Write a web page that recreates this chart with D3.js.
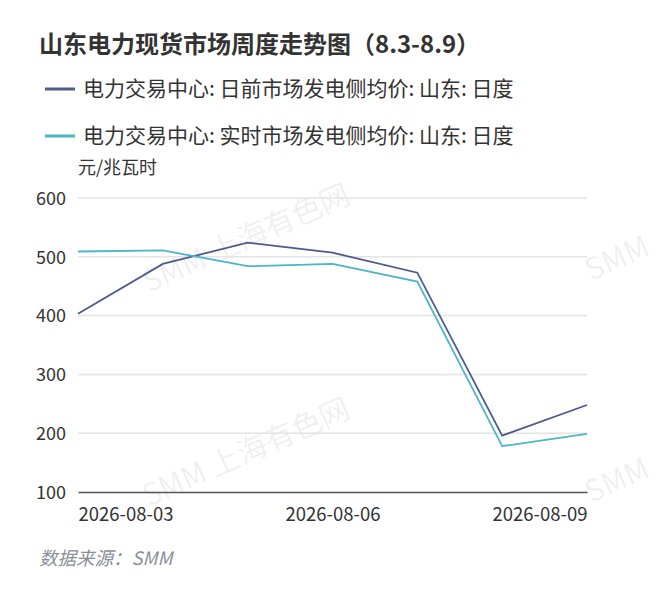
<!DOCTYPE html>
<html>
<head>
<meta charset="utf-8">
<script src="https://cdn.jsdelivr.net/npm/d3@7"></script>
<style>
  body { margin: 0; background: #fff; }
  text { font-family: "Noto Sans CJK SC", "Noto Sans", sans-serif; }
</style>
</head>
<body>
<div id="chart"></div>
<script>
const dates = ["2026-08-03", "2026-08-04", "2026-08-05", "2026-08-06", "2026-08-07", "2026-08-08", "2026-08-09"]
const dayAhead = [403, 488, 524, 507, 473, 196, 248]
const realTime = [509, 511, 484, 488, 458, 178, 199]
const yTicks = [100, 200, 300, 400, 500, 600]
const xLabels = ["2026-08-03", "2026-08-06", "2026-08-09"]

const seriesNames = [
    "电力交易中心: 日前市场发电侧均价: 山东: 日度",
    "电力交易中心: 实时市场发电侧均价: 山东: 日度"
]
const colors = ["#4e5a8e", "#4cb5c6"]

let width = 670
let height = 597

const margin = { top: 198, right: 83, bottom: 105, left: 78 }

let svg = d3.select("#chart")
    .append("svg")
        .attr("width", width)
        .attr("height", height)

// watermarks (the ones at the right edge only show "SMM")
const marks = [[246, 238, "SMM 上海有色网"], [246, 452, "SMM 上海有色网"], [617, 258, "SMM"], [617, 480, "SMM"]]
marks.forEach(m => {
    svg.append("text")
        .attr("transform", `translate(${m[0]}, ${m[1]}) rotate(-24)`)
        .attr("text-anchor", "middle")
        .attr("dy", "0.35em")
        .attr("font-size", "30px")
        .attr("fill", "#000")
        .attr("fill-opacity", 0.07)
        .text(m[2])
})

// title
svg.append("text")
    .attr("x", 39)
    .attr("y", 53)
    .attr("font-size", "24px")
    .attr("font-weight", "bold")
    .attr("fill", "#333")
    .text("山东电力现货市场周度走势图（8.3-8.9）")

// legend
seriesNames.forEach((name, i) => {
    let ly = 89 + i * 47
    svg.append("line")
        .attr("x1", 45).attr("x2", 75)
        .attr("y1", ly).attr("y2", ly)
        .attr("stroke", colors[i])
        .attr("stroke-width", 3)
    svg.append("text")
        .attr("x", 83)
        .attr("y", ly + 7)
        .attr("font-size", "21px")
        .attr("fill", "#333")
        .text(name)
})

svg.append("text")
    .attr("x", 78)
    .attr("y", 174)
    .attr("font-size", "18px")
    .attr("fill", "#333")
    .text("元/兆瓦时")

let x = d3.scalePoint()
    .domain(dates)
    .range([margin.left, width - margin.right])

let y = d3.scaleLinear()
    .domain([100, 600])
    .range([height - margin.bottom, margin.top])

// grid
svg.append("g")
    .selectAll("line")
    .data(yTicks.filter(d => d > 100))
    .enter()
    .append("line")
        .attr("x1", margin.left)
        .attr("x2", width - margin.right)
        .attr("y1", d => y(d))
        .attr("y2", d => y(d))
        .attr("stroke", "#e4e4e4")
        .attr("stroke-width", 1.5)

// y axis labels
let yAxis = svg.append("g")
    .attr("transform", `translate(${margin.left - 12}, 0)`)
    .call(d3.axisLeft(y).tickValues(yTicks).tickSize(0).tickPadding(0))
yAxis.select(".domain").remove()
yAxis.selectAll("text")
    .attr("font-size", "18px")
    .attr("fill", "#333")
    .attr("dy", "0.35em")

// x axis
let xAxis = svg.append("g")
    .attr("transform", `translate(0, ${y(100)})`)
    .call(d3.axisBottom(x).tickValues(xLabels).tickSize(0).tickPadding(16))
xAxis.select(".domain")
    .attr("stroke", "#555")
    .attr("stroke-width", 1.5)
xAxis.selectAll("text")
    .attr("font-size", "18.5px")
    .attr("fill", "#333")
    .attr("text-anchor", (d, i) => i == 0 ? "start" : (i == xLabels.length - 1 ? "end" : "middle"))

// lines
let line = d3.line()
    .x((d, i) => x(dates[i]))
    .y(d => y(d))

;[dayAhead, realTime].forEach((s, i) => {
    svg.append("path")
        .datum(s)
        .attr("d", line)
        .attr("fill", "none")
        .attr("stroke", colors[i])
        .attr("stroke-width", 1.8)
})

svg.append("text")
    .attr("x", 39)
    .attr("y", 565)
    .attr("font-size", "18.5px")
    .attr("font-style", "italic")
    .attr("fill", "#8a8f99")
    .text("数据来源：SMM")
</script>
</body>
</html>
